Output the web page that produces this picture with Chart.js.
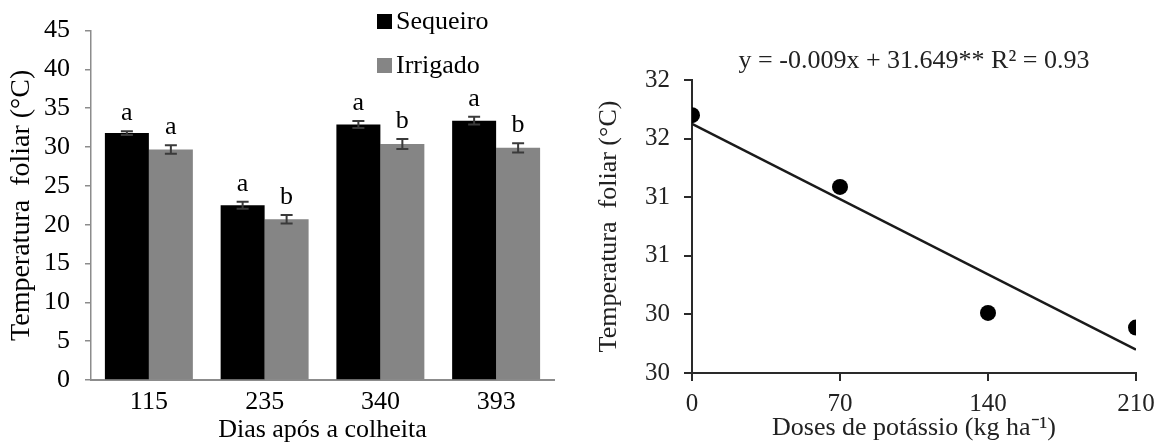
<!DOCTYPE html>
<html>
<head>
<meta charset="utf-8">
<script src="https://cdn.jsdelivr.net/npm/chart.js@4.4.0/dist/chart.umd.min.js"></script>
<style>
  html, body { margin: 0; padding: 0; background: #ffffff; }
  #wrap { position: relative; width: 1163px; height: 446px; overflow: hidden; }
  #left { position: absolute; left: 0; top: 0; }
  #right { position: absolute; left: 580px; top: 0; }
</style>
</head>
<body>
<div id="wrap">
  <canvas id="left" width="580" height="446"></canvas>
  <canvas id="right" width="583" height="446"></canvas>
</div>
<script>
// ---------- Data (left chart) ----------
const days = ['115', '235', '340', '393'];
const sequeiro = [31.8, 22.5, 32.9, 33.4];
const irrigado = [29.7, 20.7, 30.4, 29.9];
const sequeiroErr = [0.25, 0.45, 0.45, 0.5];
const irrigadoErr = [0.55, 0.55, 0.65, 0.6];
const sequeiroLetters = ['a', 'a', 'a', 'a'];
const irrigadoLetters = ['a', 'b', 'b', 'b'];
const leftTickValues = [0, 5, 10, 15, 20, 25, 30, 35, 40, 45];

// ---------- Data (right chart) ----------
const doses = [0, 70, 140, 210];
const tempFoliar = [31.76, 31.27, 30.41, 30.31];
const trendX = [0, 210];
const trendY = [31.70, 30.16];
const rightTickValues = [30, 30.4, 30.8, 31.2, 31.6, 32.0];
const rightTickLabels = ['30', '30', '31', '31', '32', '32'];
const doseTickValues = [0, 70, 140, 210];
const equationText = 'y = -0.009x + 31.649** R\u00B2 = 0.93';

const SERIF = '"Liberation Serif", "Times New Roman", serif';
Chart.defaults.font.family = SERIF;
Chart.defaults.color = '#000';

// ---------- Plugins (left) ----------
const errorBarPlugin = {
  id: 'errorBars',
  afterDatasetsDraw(chart) {
    const ctx = chart.ctx;
    const y = chart.scales.y;
    chart.data.datasets.forEach((ds, i) => {
      const meta = chart.getDatasetMeta(i);
      meta.data.forEach((el, j) => {
        const v = ds.data[j];
        const e = ds.errors[j];
        const yt = y.getPixelForValue(v + e);
        const yb = y.getPixelForValue(v - e);
        ctx.save();
        ctx.strokeStyle = '#3a3a3a';
        ctx.lineWidth = 2;
        ctx.beginPath();
        ctx.moveTo(el.x, yt); ctx.lineTo(el.x, yb);
        ctx.moveTo(el.x - 6, yt); ctx.lineTo(el.x + 6, yt);
        ctx.moveTo(el.x - 6, yb); ctx.lineTo(el.x + 6, yb);
        ctx.stroke();
        ctx.fillStyle = '#000';
        ctx.font = '26px ' + SERIF;
        ctx.textAlign = 'center';
        ctx.textBaseline = 'alphabetic';
        ctx.fillText(ds.letters[j], el.x, yt - 11);
        ctx.restore();
      });
    });
  }
};

const leftLegendPlugin = {
  id: 'leftLegend',
  afterDraw(chart) {
    const ctx = chart.ctx;
    const rows = [22, 66];
    chart.data.datasets.forEach((ds, i) => {
      const cy = rows[i];
      ctx.save();
      ctx.fillStyle = ds.backgroundColor;
      ctx.fillRect(377, cy - 8, 15, 15);
      ctx.fillStyle = '#000';
      ctx.font = '26px ' + SERIF;
      ctx.textAlign = 'left';
      ctx.textBaseline = 'middle';
      ctx.fillText(ds.label, 396, cy);
      ctx.restore();
    });
  }
};

new Chart(document.getElementById('left'), {
  type: 'bar',
  data: {
    labels: days,
    datasets: [
      { label: 'Sequeiro', data: sequeiro, errors: sequeiroErr, letters: sequeiroLetters,
        backgroundColor: '#000000', borderWidth: 0 },
      { label: 'Irrigado', data: irrigado, errors: irrigadoErr, letters: irrigadoLetters,
        backgroundColor: '#858585', borderWidth: 0 }
    ]
  },
  options: {
    responsive: false,
    animation: false,
    devicePixelRatio: 1,
    layout: { padding: { top: 20, right: 26, bottom: 0, left: 0 } },
    datasets: { bar: { categoryPercentage: 0.76, barPercentage: 1.0 } },
    plugins: { legend: { display: false }, tooltip: { enabled: false } },
    scales: {
      x: {
        grid: { display: false, drawTicks: false },
        border: { display: true, color: '#8c8c8c', width: 2 },
        ticks: { font: { size: 26 }, color: '#000', padding: 7 },
        title: { display: true, text: 'Dias após a colheita', font: { size: 26 }, color: '#000', padding: { top: 0, bottom: 0 } },
        afterFit(s) { s.height = 66; }
      },
      y: {
        min: 0, max: 45,
        afterBuildTicks(s) { s.ticks = leftTickValues.map(v => ({ value: v })); },
        grid: { display: true, drawOnChartArea: false, drawTicks: true, tickLength: 6, color: '#8c8c8c', lineWidth: 1.5 },
        border: { display: true, color: '#8c8c8c', width: 1.5 },
        ticks: { font: { size: 26 }, color: '#000', padding: 15 },
        title: { display: true, text: 'Temperatura  foliar (°C)', font: { size: 28 }, color: '#000', padding: { top: 5, bottom: 0 } },
        afterFit(s) { s.width = 91; }
      }
    }
  },
  plugins: [errorBarPlugin, leftLegendPlugin]
});

// ---------- Right chart ----------
const equationPlugin = {
  id: 'equation',
  afterDraw(chart) {
    const ctx = chart.ctx;
    const a = chart.chartArea;
    ctx.save();
    ctx.fillStyle = '#222';
    ctx.font = '26px ' + SERIF;
    ctx.textAlign = 'center';
    ctx.textBaseline = 'middle';
    ctx.fillText(equationText, (a.left + a.right) / 2, a.top - 19);
    ctx.restore();
  }
};

new Chart(document.getElementById('right'), {
  type: 'scatter',
  data: {
    datasets: [
      { label: 'Temperatura', data: doses.map((x, i) => ({ x: x, y: tempFoliar[i] })),
        pointRadius: 8, pointHoverRadius: 8, backgroundColor: '#000', borderColor: '#000', borderWidth: 0, showLine: false },
      { type: 'line', label: 'Tendência', data: trendX.map((x, i) => ({ x: x, y: trendY[i] })),
        borderColor: '#1a1a1a', borderWidth: 2.5, pointRadius: 0, fill: false, tension: 0 }
    ]
  },
  options: {
    responsive: false,
    animation: false,
    devicePixelRatio: 1,
    layout: { padding: { top: 80, right: 27, bottom: 0, left: 0 } },
    plugins: { legend: { display: false }, tooltip: { enabled: false } },
    scales: {
      x: {
        type: 'linear', min: 0, max: 210,
        afterBuildTicks(s) { s.ticks = doseTickValues.map(v => ({ value: v })); },
        grid: { display: true, drawOnChartArea: false, drawTicks: true, tickLength: 8, color: '#2a2a2a', lineWidth: 2 },
        border: { display: true, color: '#2a2a2a', width: 2 },
        ticks: { font: { size: 25 }, color: '#222', padding: 8, callback: v => String(v) },
        title: { display: true, text: 'Doses de potássio (kg ha\u207B\u00B9)', font: { size: 26 }, color: '#222', padding: { top: 0, bottom: 2 } },
        afterFit(s) { s.height = 73; }
      },
      y: {
        type: 'linear', min: 30, max: 32,
        afterBuildTicks(s) { s.ticks = rightTickValues.map(v => ({ value: v })); },
        grid: { display: true, drawOnChartArea: false, drawTicks: true, tickLength: 8, color: '#2a2a2a', lineWidth: 2 },
        border: { display: true, color: '#2a2a2a', width: 2 },
        ticks: { font: { size: 25 }, color: '#222', padding: 14, callback: (v, i) => rightTickLabels[i] },
        title: { display: true, text: 'Temperatura  foliar (°C)', font: { size: 26 }, color: '#222', padding: { top: 14, bottom: 0 } },
        afterFit(s) { s.width = 112; }
      }
    }
  },
  plugins: [equationPlugin]
});
</script>
</body>
</html>
